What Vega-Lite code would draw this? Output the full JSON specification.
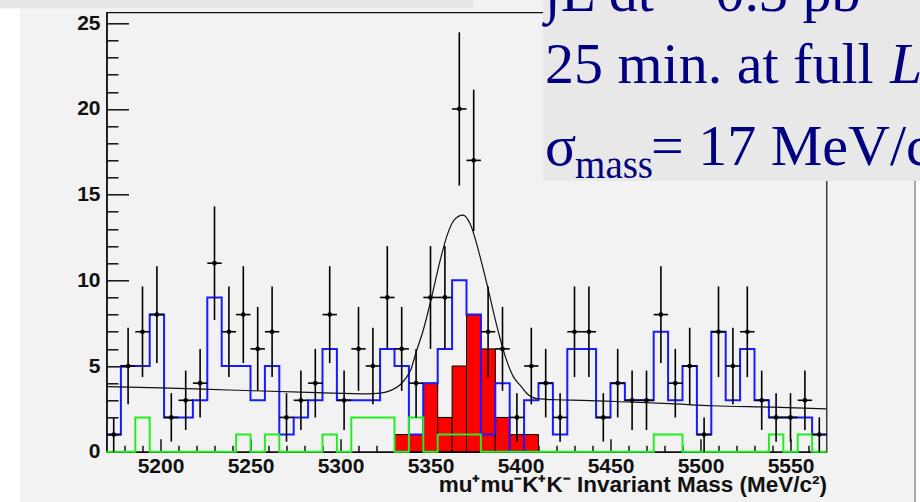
{
  "$schema": "https://vega.github.io/schema/vega-lite/v6.json",
  "width": 720,
  "height": 439.4,
  "autosize": {"type": "none"},
  "padding": {"left": 106.5, "top": 12.3, "right": 93.5, "bottom": 50.3},
  "background": "#f2f2f2",
  "config": {
    "view": {"stroke": "#111111", "strokeWidth": 1.2},
    "axis": {"zindex": 1, "grid": false}
  },
  "resolve": {"axis": {"x": "independent", "y": "independent"}},
  "datasets": {
    "bins": [
      {"lo": 5170, "hi": 5178, "mid": 5174, "n": 1, "ylo": 0, "yhi": 2, "red": 0},
      {"lo": 5178, "hi": 5186, "mid": 5182, "n": 5, "ylo": 2.764, "yhi": 7.236, "red": 0},
      {"lo": 5186, "hi": 5194, "mid": 5190, "n": 7, "ylo": 4.354, "yhi": 9.646, "red": 0},
      {"lo": 5194, "hi": 5202, "mid": 5198, "n": 8, "ylo": 5.172, "yhi": 10.828, "red": 0},
      {"lo": 5202, "hi": 5210, "mid": 5206, "n": 2, "ylo": 0.586, "yhi": 3.414, "red": 0},
      {"lo": 5210, "hi": 5218, "mid": 5214, "n": 3, "ylo": 1.268, "yhi": 4.732, "red": 0},
      {"lo": 5218, "hi": 5226, "mid": 5222, "n": 4, "ylo": 2, "yhi": 6, "red": 0},
      {"lo": 5226, "hi": 5234, "mid": 5230, "n": 11, "ylo": 7.683, "yhi": 14.317, "red": 0},
      {"lo": 5234, "hi": 5242, "mid": 5238, "n": 7, "ylo": 4.354, "yhi": 9.646, "red": 0},
      {"lo": 5242, "hi": 5250, "mid": 5246, "n": 8, "ylo": 5.172, "yhi": 10.828, "red": 0},
      {"lo": 5250, "hi": 5258, "mid": 5254, "n": 6, "ylo": 3.551, "yhi": 8.449, "red": 0},
      {"lo": 5258, "hi": 5266, "mid": 5262, "n": 7, "ylo": 4.354, "yhi": 9.646, "red": 0},
      {"lo": 5266, "hi": 5274, "mid": 5270, "n": 2, "ylo": 0.586, "yhi": 3.414, "red": 0},
      {"lo": 5274, "hi": 5282, "mid": 5278, "n": 3, "ylo": 1.268, "yhi": 4.732, "red": 0},
      {"lo": 5282, "hi": 5290, "mid": 5286, "n": 4, "ylo": 2, "yhi": 6, "red": 0},
      {"lo": 5290, "hi": 5298, "mid": 5294, "n": 8, "ylo": 5.172, "yhi": 10.828, "red": 0},
      {"lo": 5298, "hi": 5306, "mid": 5302, "n": 3, "ylo": 1.268, "yhi": 4.732, "red": 0},
      {"lo": 5306, "hi": 5314, "mid": 5310, "n": 6, "ylo": 3.551, "yhi": 8.449, "red": 0},
      {"lo": 5314, "hi": 5322, "mid": 5318, "n": 5, "ylo": 2.764, "yhi": 7.236, "red": 0},
      {"lo": 5322, "hi": 5330, "mid": 5326, "n": 9, "ylo": 6, "yhi": 12, "red": 0},
      {"lo": 5330, "hi": 5338, "mid": 5334, "n": 6, "ylo": 3.551, "yhi": 8.449, "red": 1},
      {"lo": 5338, "hi": 5346, "mid": 5342, "n": 4, "ylo": 2, "yhi": 6, "red": 1},
      {"lo": 5346, "hi": 5354, "mid": 5350, "n": 9, "ylo": 6, "yhi": 12, "red": 4},
      {"lo": 5354, "hi": 5362, "mid": 5358, "n": 9, "ylo": 6, "yhi": 12, "red": 2},
      {"lo": 5362, "hi": 5370, "mid": 5366, "n": 20, "ylo": 15.528, "yhi": 24.472, "red": 5},
      {"lo": 5370, "hi": 5378, "mid": 5374, "n": 17, "ylo": 12.877, "yhi": 21.123, "red": 8},
      {"lo": 5378, "hi": 5386, "mid": 5382, "n": 7, "ylo": 4.354, "yhi": 9.646, "red": 6},
      {"lo": 5386, "hi": 5394, "mid": 5390, "n": 6, "ylo": 3.551, "yhi": 8.449, "red": 2},
      {"lo": 5394, "hi": 5402, "mid": 5398, "n": 2, "ylo": 0.586, "yhi": 3.414, "red": 1},
      {"lo": 5402, "hi": 5410, "mid": 5406, "n": 5, "ylo": 2.764, "yhi": 7.236, "red": 1},
      {"lo": 5410, "hi": 5418, "mid": 5414, "n": 4, "ylo": 2, "yhi": 6, "red": 0},
      {"lo": 5418, "hi": 5426, "mid": 5422, "n": 2, "ylo": 0.586, "yhi": 3.414, "red": 0},
      {"lo": 5426, "hi": 5434, "mid": 5430, "n": 7, "ylo": 4.354, "yhi": 9.646, "red": 0},
      {"lo": 5434, "hi": 5442, "mid": 5438, "n": 7, "ylo": 4.354, "yhi": 9.646, "red": 0},
      {"lo": 5442, "hi": 5450, "mid": 5446, "n": 2, "ylo": 0.586, "yhi": 3.414, "red": 0},
      {"lo": 5450, "hi": 5458, "mid": 5454, "n": 4, "ylo": 2, "yhi": 6, "red": 0},
      {"lo": 5458, "hi": 5466, "mid": 5462, "n": 3, "ylo": 1.268, "yhi": 4.732, "red": 0},
      {"lo": 5466, "hi": 5474, "mid": 5470, "n": 3, "ylo": 1.268, "yhi": 4.732, "red": 0},
      {"lo": 5474, "hi": 5482, "mid": 5478, "n": 8, "ylo": 5.172, "yhi": 10.828, "red": 0},
      {"lo": 5482, "hi": 5490, "mid": 5486, "n": 4, "ylo": 2, "yhi": 6, "red": 0},
      {"lo": 5490, "hi": 5498, "mid": 5494, "n": 5, "ylo": 2.764, "yhi": 7.236, "red": 0},
      {"lo": 5498, "hi": 5506, "mid": 5502, "n": 1, "ylo": 0, "yhi": 2, "red": 0},
      {"lo": 5506, "hi": 5514, "mid": 5510, "n": 7, "ylo": 4.354, "yhi": 9.646, "red": 0},
      {"lo": 5514, "hi": 5522, "mid": 5518, "n": 5, "ylo": 2.764, "yhi": 7.236, "red": 0},
      {"lo": 5522, "hi": 5530, "mid": 5526, "n": 7, "ylo": 4.354, "yhi": 9.646, "red": 0},
      {"lo": 5530, "hi": 5538, "mid": 5534, "n": 3, "ylo": 1.268, "yhi": 4.732, "red": 0},
      {"lo": 5538, "hi": 5546, "mid": 5542, "n": 2, "ylo": 0.586, "yhi": 3.414, "red": 0},
      {"lo": 5546, "hi": 5554, "mid": 5550, "n": 2, "ylo": 0.586, "yhi": 3.414, "red": 0},
      {"lo": 5554, "hi": 5562, "mid": 5558, "n": 3, "ylo": 1.268, "yhi": 4.732, "red": 0},
      {"lo": 5562, "hi": 5570, "mid": 5566, "n": 1, "ylo": 0, "yhi": 2, "red": 0}
    ],
    "edges": [
      {"edge": 5170, "blue": 1, "green": 0},
      {"edge": 5178, "blue": 5, "green": 0},
      {"edge": 5186, "blue": 5, "green": 2},
      {"edge": 5194, "blue": 8, "green": 0},
      {"edge": 5202, "blue": 2, "green": 0},
      {"edge": 5210, "blue": 2, "green": 0},
      {"edge": 5218, "blue": 3, "green": 0},
      {"edge": 5226, "blue": 9, "green": 0},
      {"edge": 5234, "blue": 5, "green": 0},
      {"edge": 5242, "blue": 5, "green": 1},
      {"edge": 5250, "blue": 3, "green": 0},
      {"edge": 5258, "blue": 5, "green": 1},
      {"edge": 5266, "blue": 1, "green": 0},
      {"edge": 5274, "blue": 2, "green": 0},
      {"edge": 5282, "blue": 3, "green": 0},
      {"edge": 5290, "blue": 6, "green": 1},
      {"edge": 5298, "blue": 3, "green": 0},
      {"edge": 5306, "blue": 3, "green": 2},
      {"edge": 5314, "blue": 3, "green": 2},
      {"edge": 5322, "blue": 6, "green": 2},
      {"edge": 5330, "blue": 5, "green": 0},
      {"edge": 5338, "blue": 1, "green": 2},
      {"edge": 5346, "blue": 4, "green": 0},
      {"edge": 5354, "blue": 6, "green": 1},
      {"edge": 5362, "blue": 10, "green": 1},
      {"edge": 5370, "blue": 8, "green": 1},
      {"edge": 5378, "blue": 1, "green": 0},
      {"edge": 5386, "blue": 4, "green": 0},
      {"edge": 5394, "blue": 0, "green": 0},
      {"edge": 5402, "blue": 3, "green": 0},
      {"edge": 5410, "blue": 4, "green": 0},
      {"edge": 5418, "blue": 1, "green": 0},
      {"edge": 5426, "blue": 6, "green": 0},
      {"edge": 5434, "blue": 6, "green": 0},
      {"edge": 5442, "blue": 2, "green": 0},
      {"edge": 5450, "blue": 4, "green": 0},
      {"edge": 5458, "blue": 3, "green": 0},
      {"edge": 5466, "blue": 3, "green": 0},
      {"edge": 5474, "blue": 7, "green": 1},
      {"edge": 5482, "blue": 3, "green": 1},
      {"edge": 5490, "blue": 5, "green": 0},
      {"edge": 5498, "blue": 1, "green": 0},
      {"edge": 5506, "blue": 7, "green": 0},
      {"edge": 5514, "blue": 3, "green": 0},
      {"edge": 5522, "blue": 6, "green": 0},
      {"edge": 5530, "blue": 3, "green": 0},
      {"edge": 5538, "blue": 2, "green": 1},
      {"edge": 5546, "blue": 2, "green": 0},
      {"edge": 5554, "blue": 2, "green": 1},
      {"edge": 5562, "blue": 1, "green": 0},
      {"edge": 5570, "blue": 1, "green": 0}
    ],
    "fit": [
      {"mass": 5170, "f": 3.8},
      {"mass": 5200, "f": 3.72},
      {"mass": 5238, "f": 3.6},
      {"mass": 5287, "f": 3.45},
      {"mass": 5315, "f": 3.38},
      {"mass": 5322, "f": 3.42},
      {"mass": 5328, "f": 3.58},
      {"mass": 5333, "f": 3.89},
      {"mass": 5336, "f": 4.25},
      {"mass": 5339, "f": 4.77},
      {"mass": 5342, "f": 5.8},
      {"mass": 5346, "f": 7.1},
      {"mass": 5350.7, "f": 9.05},
      {"mass": 5355, "f": 11.0},
      {"mass": 5359, "f": 12.55},
      {"mass": 5363, "f": 13.5},
      {"mass": 5368, "f": 13.8},
      {"mass": 5372, "f": 13.3},
      {"mass": 5377.5, "f": 11.4},
      {"mass": 5382, "f": 9.5},
      {"mass": 5386, "f": 7.7},
      {"mass": 5390.4, "f": 5.94},
      {"mass": 5396, "f": 4.38},
      {"mass": 5400, "f": 3.85},
      {"mass": 5403.4, "f": 3.41},
      {"mass": 5409, "f": 3.1},
      {"mass": 5420, "f": 3.03},
      {"mass": 5435, "f": 3.0},
      {"mass": 5460, "f": 2.9},
      {"mass": 5483, "f": 2.8},
      {"mass": 5507, "f": 2.68},
      {"mass": 5540, "f": 2.6},
      {"mass": 5570, "f": 2.5}
    ]
  },
  "layer": [
    {
      "data": {"name": "bins"},
      "transform": [{"filter": "datum.red > 0"}],
      "mark": {"type": "rect", "fill": "#ff0000", "stroke": "#000000", "strokeWidth": 1},
      "encoding": {
        "x": {
          "field": "lo", "type": "quantitative",
          "scale": {"domain": [5170, 5570], "nice": false, "zero": false},
          "axis": {
            "orient": "bottom",
            "values": [5200, 5250, 5300, 5350, 5400, 5450, 5500, 5550],
            "format": "d",
            "tickSize": -13, "tickWidth": 1.5, "tickColor": "#111111",
            "domainColor": "#111111", "domainWidth": 1.6,
            "labelFont": "Liberation Sans", "labelFontWeight": "bold", "labelFontSize": 21,
            "labelColor": "#111111", "labelPadding": 17, "labelFlush": false,
            "title": "mu⁺mu⁻K⁺K⁻ Invariant Mass (MeV/c²)",
            "titleFont": "Liberation Sans", "titleFontWeight": "bold", "titleFontSize": 22.5,
            "titleColor": "#111111", "titleAnchor": "end", "titleAlign": "right",
            "titleBaseline": "alphabetic", "titleX": 720, "titleY": 39.5
          }
        },
        "x2": {"field": "hi"},
        "y": {
          "field": "red", "type": "quantitative",
          "scale": {"domain": [0, 25.64], "nice": false},
          "axis": {
            "orient": "left",
            "values": [0, 5, 10, 15, 20, 25],
            "format": "d",
            "tickSize": -22, "tickWidth": 1.5, "tickColor": "#111111",
            "domainColor": "#111111", "domainWidth": 1.6,
            "labelFont": "Liberation Sans", "labelFontWeight": "bold", "labelFontSize": 21,
            "labelColor": "#111111", "labelPadding": 28.5, "labelFlush": false,
            "title": null
          }
        },
        "y2": {"datum": 0}
      }
    },
    {
      "data": {"name": "edges"},
      "mark": {"type": "line", "interpolate": "step-after", "color": "#1a1aff", "strokeWidth": 2},
      "encoding": {
        "x": {
          "field": "edge", "type": "quantitative",
          "axis": {
            "orient": "bottom",
            "values": [5180, 5190, 5210, 5220, 5230, 5240, 5260, 5270, 5280, 5290, 5310, 5320, 5330, 5340, 5360, 5370, 5380, 5390, 5410, 5420, 5430, 5440, 5460, 5470, 5480, 5490, 5510, 5520, 5530, 5540, 5560],
            "tickSize": -6.5, "tickWidth": 1.5, "tickColor": "#111111",
            "domain": false, "labels": false, "title": null
          }
        },
        "y": {
          "field": "blue", "type": "quantitative",
          "axis": {
            "orient": "left",
            "values": [1, 2, 3, 4, 6, 7, 8, 9, 11, 12, 13, 14, 16, 17, 18, 19, 21, 22, 23, 24],
            "tickSize": -11.5, "tickWidth": 1.5, "tickColor": "#111111",
            "domain": false, "labels": false, "title": null
          }
        }
      }
    },
    {
      "data": {"name": "edges"},
      "mark": {"type": "line", "interpolate": "step-after", "color": "#22ee22", "strokeWidth": 2},
      "encoding": {
        "x": {"field": "edge", "type": "quantitative", "axis": null},
        "y": {"field": "green", "type": "quantitative", "axis": null}
      }
    },
    {
      "data": {"name": "fit"},
      "mark": {"type": "line", "interpolate": "monotone", "color": "#111111", "strokeWidth": 1.2},
      "encoding": {
        "x": {"field": "mass", "type": "quantitative", "axis": null},
        "y": {"field": "f", "type": "quantitative", "axis": null}
      }
    },
    {
      "data": {"name": "bins"},
      "mark": {"type": "rule", "color": "#000000", "strokeWidth": 1.6},
      "encoding": {
        "x": {"field": "mid", "type": "quantitative", "axis": null},
        "y": {"field": "ylo", "type": "quantitative", "axis": null},
        "y2": {"field": "yhi"}
      }
    },
    {
      "data": {"name": "bins"},
      "mark": {"type": "rule", "color": "#000000", "strokeWidth": 1.6},
      "encoding": {
        "x": {"field": "lo", "type": "quantitative", "axis": null},
        "x2": {"field": "hi"},
        "y": {"field": "n", "type": "quantitative", "axis": null}
      }
    },
    {
      "data": {"name": "bins"},
      "mark": {"type": "point", "shape": "circle", "filled": true, "size": 22, "color": "#000000", "opacity": 1},
      "encoding": {
        "x": {"field": "mid", "type": "quantitative", "axis": null},
        "y": {"field": "n", "type": "quantitative", "axis": null}
      }
    },
    {
      "data": {"values": [{"part": "left margin"}]},
      "mark": {"type": "rect", "fill": "#ffffff", "clip": false},
      "encoding": {
        "x": {"datum": 5100, "axis": null},
        "x2": {"datum": 5121.94},
        "y": {"datum": -3.5, "axis": null},
        "y2": {"datum": 25.88}
      }
    },
    {
      "data": {"values": [{"part": "right margin"}]},
      "mark": {"type": "rect", "fill": "#ffffff", "clip": false},
      "encoding": {
        "x": {"datum": 5619.8, "axis": null},
        "x2": {"datum": 5640},
        "y": {"datum": -3.5, "axis": null},
        "y2": {"datum": 15.8}
      }
    },
    {
      "data": {"values": [{"part": "pad border"}]},
      "mark": {"type": "rule", "color": "#a6a6a6", "strokeWidth": 2, "clip": false},
      "encoding": {
        "x": {"datum": 5619.2, "axis": null},
        "y": {"datum": -3.5, "axis": null},
        "y2": {"datum": 15.8}
      }
    },
    {
      "data": {"values": [{"part": "title bar"}]},
      "mark": {"type": "rect", "fill": "#e6e6e6", "clip": false},
      "encoding": {
        "x": {"datum": 5100, "axis": null},
        "x2": {"datum": 5373.6},
        "y": {"datum": 25.88, "axis": null},
        "y2": {"datum": 27}
      }
    },
    {
      "data": {"values": [{"part": "info box"}]},
      "mark": {"type": "rect", "fill": "#e8e8e8", "clip": false},
      "encoding": {
        "x": {"datum": 5412.5, "axis": null},
        "x2": {"datum": 5640},
        "y": {"datum": 15.8, "axis": null},
        "y2": {"datum": 27}
      }
    },
    {
      "data": {"values": [{"label": "∫L dt = 0.3 pb⁻¹"}]},
      "mark": {"type": "text", "align": "left", "baseline": "alphabetic", "font": "Liberation Serif", "fontSize": 58, "color": "#000080", "clip": false},
      "encoding": {
        "text": {"field": "label"},
        "x": {"datum": 5413.6, "axis": null},
        "y": {"datum": 25.7, "axis": null}
      }
    },
    {
      "data": {"values": [{"label": "25 min. at full"}]},
      "mark": {"type": "text", "align": "left", "baseline": "alphabetic", "font": "Liberation Serif", "fontSize": 58, "color": "#000080", "clip": false},
      "encoding": {
        "text": {"field": "label"},
        "x": {"datum": 5413.6, "axis": null},
        "y": {"datum": 21.5, "axis": null}
      }
    },
    {
      "data": {"values": [{"label": "L"}]},
      "mark": {"type": "text", "align": "left", "baseline": "alphabetic", "font": "Liberation Serif", "fontStyle": "italic", "fontSize": 58, "color": "#000080", "clip": false},
      "encoding": {
        "text": {"field": "label"},
        "x": {"datum": 5605.3, "axis": null},
        "y": {"datum": 21.5, "axis": null}
      }
    },
    {
      "data": {"values": [{"label": "σ"}]},
      "mark": {"type": "text", "align": "left", "baseline": "alphabetic", "font": "Liberation Serif", "fontSize": 58, "color": "#000080", "clip": false},
      "encoding": {
        "text": {"field": "label"},
        "x": {"datum": 5413.6, "axis": null},
        "y": {"datum": 16.73, "axis": null}
      }
    },
    {
      "data": {"values": [{"label": "mass"}]},
      "mark": {"type": "text", "align": "left", "baseline": "alphabetic", "font": "Liberation Serif", "fontSize": 39, "color": "#000080", "clip": false},
      "encoding": {
        "text": {"field": "label"},
        "x": {"datum": 5430.3, "axis": null},
        "y": {"datum": 15.97, "axis": null}
      }
    },
    {
      "data": {"values": [{"label": "= 17 MeV/c²"}]},
      "mark": {"type": "text", "align": "left", "baseline": "alphabetic", "font": "Liberation Serif", "fontSize": 58, "color": "#000080", "clip": false},
      "encoding": {
        "text": {"field": "label"},
        "x": {"datum": 5472.5, "axis": null},
        "y": {"datum": 16.73, "axis": null}
      }
    }
  ]
}
